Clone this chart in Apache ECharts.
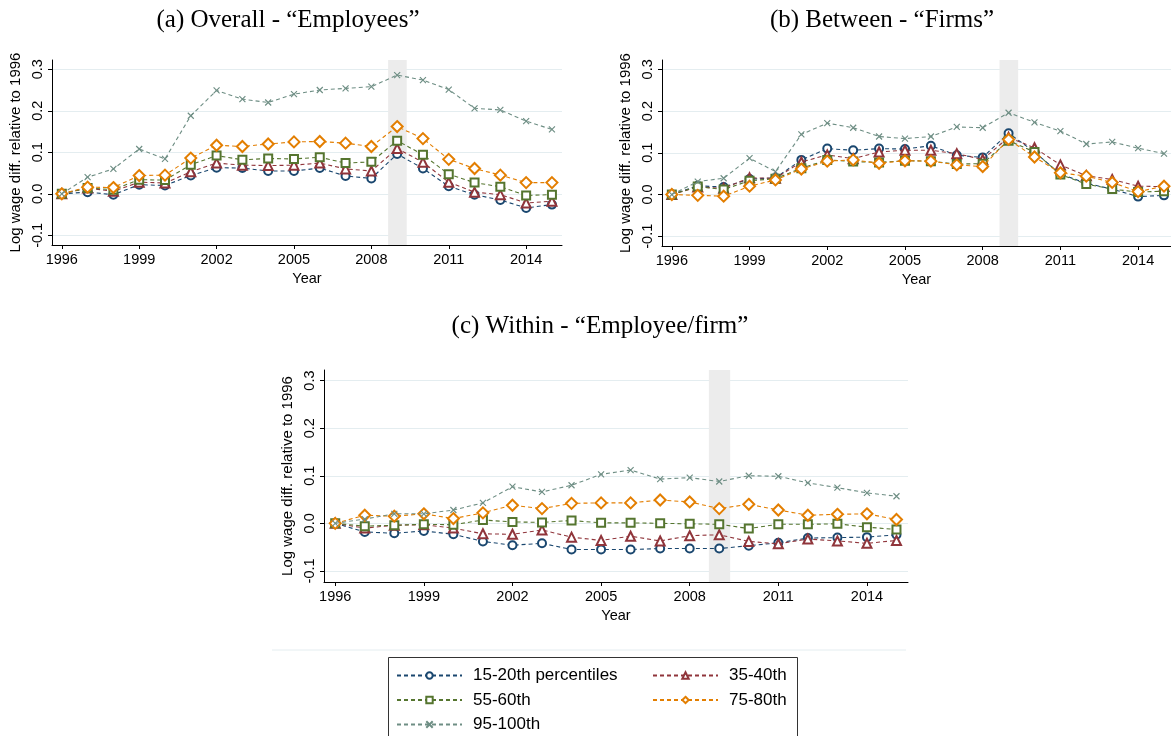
<!DOCTYPE html>
<html>
<head>
<meta charset="utf-8">
<script src="https://cdn.jsdelivr.net/npm/echarts@6/dist/echarts.min.js"></script>
<style>
html,body{margin:0;padding:0;background:#fff;}
#main{width:1171px;height:736px;}
</style>
</head>
<body>
<div id="main"></div>
<script>
// ---------- data ----------
const years = [1996,1997,1998,1999,2000,2001,2002,2003,2004,2005,2006,2007,2008,2009,2010,2011,2012,2013,2014,2015];
const xTicks = [1996,1999,2002,2005,2008,2011,2014];
const yTicks = [-0.1,0,0.1,0.2,0.3];
const seriesNames = ['15-20th percentiles','35-40th','55-60th','75-80th','95-100th'];
const panelTitles = ['(a) Overall - \u201cEmployees\u201d','(b) Between - \u201cFirms\u201d','(c) Within - \u201cEmployee/firm\u201d'];
const recession = [2008.65, 2009.37];

// (a) Overall
const a15 = [0,0.004,-0.002,0.022,0.020,0.044,0.063,0.062,0.055,0.055,0.062,0.043,0.037,0.096,0.061,0.018,-0.002,-0.015,-0.034,-0.026];
const a35 = [0,0.014,0.006,0.028,0.026,0.053,0.074,0.069,0.068,0.069,0.074,0.060,0.055,0.109,0.076,0.028,0.004,-0.002,-0.022,-0.018];
const a55 = [0,0.014,0.010,0.034,0.033,0.070,0.092,0.082,0.085,0.084,0.088,0.074,0.077,0.128,0.094,0.047,0.027,0.017,-0.004,-0.002];
const a75 = [0,0.016,0.015,0.044,0.045,0.086,0.117,0.114,0.120,0.125,0.126,0.122,0.114,0.162,0.133,0.083,0.061,0.045,0.027,0.027];
const a95 = [0,0.040,0.060,0.108,0.084,0.188,0.249,0.228,0.220,0.240,0.250,0.254,0.258,0.286,0.274,0.251,0.206,0.202,0.175,0.155];
// (b) Between
const b15 = [0,0.021,0.018,0.037,0.040,0.083,0.110,0.106,0.110,0.109,0.117,0.094,0.089,0.147,0.102,0.049,0.027,0.013,-0.005,-0.002];
const b35 = [0,0.018,0.015,0.040,0.039,0.078,0.095,0.086,0.102,0.106,0.106,0.098,0.084,0.137,0.112,0.071,0.045,0.036,0.020,0.019];
const b55 = [0,0.019,0.012,0.033,0.038,0.063,0.083,0.079,0.077,0.081,0.080,0.073,0.074,0.129,0.102,0.048,0.025,0.013,0.006,0.008];
const b75 = [0,-0.002,-0.004,0.020,0.035,0.061,0.080,0.083,0.075,0.081,0.080,0.071,0.067,0.132,0.090,0.052,0.044,0.029,0.007,0.020];
const b95 = [0,0.031,0.039,0.087,0.055,0.144,0.171,0.160,0.139,0.134,0.139,0.162,0.160,0.196,0.173,0.152,0.121,0.126,0.111,0.098];
// (c) Within
const c15 = [0,-0.018,-0.021,-0.016,-0.023,-0.038,-0.046,-0.042,-0.055,-0.055,-0.055,-0.053,-0.053,-0.053,-0.047,-0.041,-0.031,-0.030,-0.029,-0.024];
const c35 = [0,-0.010,-0.004,-0.003,-0.010,-0.022,-0.023,-0.014,-0.029,-0.036,-0.027,-0.037,-0.026,-0.024,-0.038,-0.043,-0.033,-0.037,-0.042,-0.036];
const c55 = [0,-0.006,-0.004,-0.002,-0.003,0.007,0.003,0.002,0.006,0.001,0.001,0.000,-0.001,-0.002,-0.011,-0.002,-0.002,-0.001,-0.008,-0.013];
const c75 = [0,0.017,0.015,0.020,0.010,0.022,0.038,0.031,0.042,0.043,0.043,0.049,0.045,0.031,0.040,0.028,0.017,0.019,0.020,0.008];
const c95 = [0,0.009,0.020,0.020,0.028,0.043,0.077,0.066,0.080,0.103,0.112,0.093,0.096,0.088,0.100,0.099,0.085,0.075,0.064,0.057];

const panels = [[a15,a35,a55,a75,a95],[b15,b35,b55,b75,b95],[c15,c35,c55,c75,c95]];

// ---------- styles ----------
const colors = ['#1a476f','#90353b','#55752f','#e37e00','#6e8e84'];
const symbols = ['emptyCircle','emptyTriangle','emptyRect','emptyDiamond','path://M0,0L10,10M10,0L0,10'];
const symbolSizes = [8,9,8,11,6];
const SANS = 'Liberation Sans, Arial, sans-serif';
const SERIF = 'Liberation Serif, Times New Roman, serif';

const grids = [
  {left:52, width:510, top:60, height:185},
  {left:662, width:509, top:60, height:186},
  {left:324, width:584, top:370, height:212}
];
const xRanges = [[1995.62,2015.39],[1995.62,2015.27],[1995.62,2015.39]];
const yRange = [-0.1233,0.3223];

const xAxes = grids.map((g,i)=>({
  type:'value', gridIndex:i, min:xRanges[i][0], max:xRanges[i][1],
  name:'Year', nameLocation:'middle', nameGap:26,
  nameTextStyle:{fontFamily:SANS, fontSize:14.5, color:'#000'},
  axisLine:{show:true, onZero:false, lineStyle:{color:'#000', width:1}},
  axisTick:{show:true, length:4, customValues:xTicks, lineStyle:{color:'#000'}},
  axisLabel:{customValues:xTicks, margin:7, fontFamily:SANS, fontSize:14.5, color:'#000', formatter:v=>String(v)},
  splitLine:{show:false}
}));
const yAxes = grids.map((g,i)=>({
  type:'value', gridIndex:i, min:yRange[0], max:yRange[1],
  name:'Log wage diff. relative to 1996', nameLocation:'middle', nameGap:29, nameRotate:90,
  nameTextStyle:{fontFamily:SANS, fontSize:15, color:'#000'},
  axisLine:{show:true, onZero:false, lineStyle:{color:'#000', width:1}},
  axisTick:{show:true, length:4, customValues:yTicks, lineStyle:{color:'#000'}},
  axisLabel:{customValues:yTicks, rotate:90, margin:7, fontFamily:SANS, fontSize:14.5, color:'#000', formatter:v=>v.toFixed(1)},
  splitLine:{show:true, lineStyle:{color:'#e4edf0', width:1}}
}));

const series = [];
panels.forEach((arrs,p)=>{
  arrs.forEach((vals,k)=>{
    const s = {
      type:'line', name:seriesNames[k], xAxisIndex:p, yAxisIndex:p,
      data: years.map((y,i)=>[y, vals[i]]),
      symbol: symbols[k], symbolSize: symbolSizes[k], showSymbol:true,
      lineStyle:{color:colors[k], width:1.1, type:[4,3]},
      itemStyle:{color:colors[k], borderColor:colors[k], borderWidth:1.15},
      emphasis:{disabled:true}, animation:false, z:3+k
    };
    if (k===0) {
      s.markArea = {silent:true, itemStyle:{color:'#ececec'}, data:[[{xAxis:recession[0], yAxis:yRange[0]},{xAxis:recession[1], yAxis:yRange[1]}]]};
    }
    series.push(s);
  });
});

const legendBase = {
  orient:'vertical', itemWidth:65, itemHeight:8, itemGap:7.5, padding:0, height:120,
  textStyle:{fontFamily:SANS, fontSize:17, color:'#000', padding:[0,0,0,6]},
  selectedMode:false
};

const option = {
  animation:false,
  backgroundColor:'#fff',
  grid: grids,
  xAxis: xAxes,
  yAxis: yAxes,
  series: series,
  legend: [
    Object.assign({}, legendBase, {left:396, top:667, data:[seriesNames[0],seriesNames[2],seriesNames[4]]}),
    Object.assign({}, legendBase, {left:652, top:667, data:[seriesNames[1],seriesNames[3]]})
  ],
  graphic: [
    {type:'line', shape:{x1:272,y1:650,x2:906,y2:650}, style:{stroke:'#e4edf0', lineWidth:1}, z:0},
    {type:'rect', shape:{x:388.5,y:657.5,width:409,height:100}, style:{fill:'#fff', stroke:'#333', lineWidth:1}, z:-1},
    {type:'text', x:288, y:20, style:{text:panelTitles[0], font:'25px '+SERIF, fill:'#000', align:'center', verticalAlign:'middle'}},
    {type:'text', x:882, y:20, style:{text:panelTitles[1], font:'25px '+SERIF, fill:'#000', align:'center', verticalAlign:'middle'}},
    {type:'text', x:600, y:326, style:{text:panelTitles[2], font:'25px '+SERIF, fill:'#000', align:'center', verticalAlign:'middle'}}
  ]
};

const chart = echarts.init(document.getElementById('main'), null, {renderer:'canvas'});
chart.setOption(option);
</script>
</body>
</html>
